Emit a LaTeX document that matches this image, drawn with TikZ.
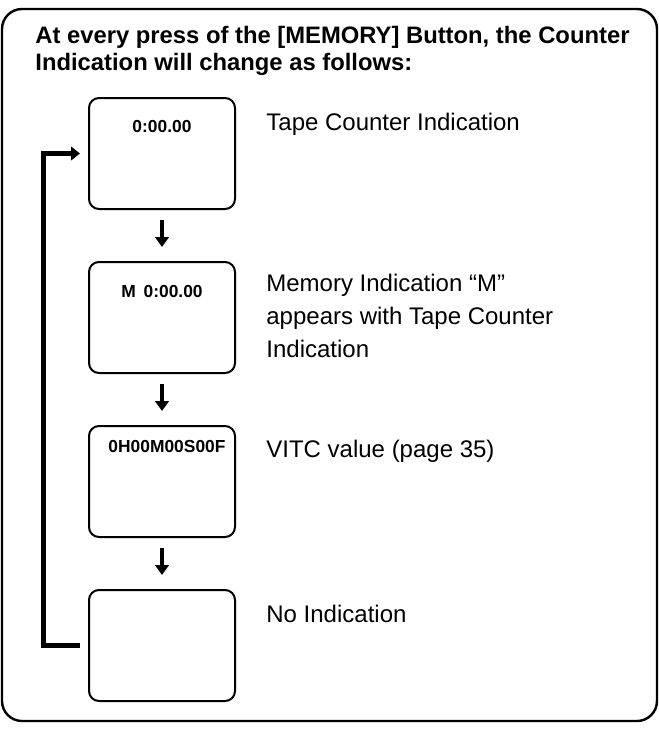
\documentclass[tikz,border=0pt]{standalone}
\usepackage{fontspec}
\setmainfont{Liberation Sans}
\usetikzlibrary{positioning,arrows.meta}

\begin{document}
\begin{tikzpicture}[
    x=0.5pt,y=-0.5pt,
    every node/.style={inner sep=0pt},
    node distance=25.5pt and 15pt,
    display/.style={draw,line width=1pt,rounded corners=5pt,minimum width=73pt,minimum height=55.5pt},
    readout/.style={font=\fontsize{8.7}{10}\selectfont\bfseries},
    note/.style={font=\fontsize{12}{16.5}\selectfont,align=left},
    down/.style={-{Triangle[length=5pt,width=6.8pt]},line width=2.2pt,shorten <=5pt,shorten >=7pt},
    back/.style={-{Triangle[length=4.5pt,width=6.8pt]},line width=2.5pt,shorten <=4pt,shorten >=4pt}
  ]
  \useasboundingbox (0,0) rectangle (659,729);
  \draw[line width=1.2pt,rounded corners=10pt] (2,9) rectangle (657,721);
  \node[anchor=north west,align=left,font=\fontsize{11.9}{13.5}\selectfont\bfseries] (head) at (35,26)
    {At every press of the [MEMORY] Button, the Counter\\Indication will change as follows:};
  % the four counter displays
  \node[display,anchor=north west] (b1) at (88,97) {};
  \node[display,below=of b1] (b2) {};
  \node[display,below=of b2] (b3) {};
  \node[display,below=of b3] (b4) {};
  \node[readout] (r1) at ([yshift=-15pt]b1.north) {0:00.00};
  \node[readout] (r2) at ([yshift=-15.5pt]b2.north) {M\hspace{0.45em}0:00.00};
  \node[readout] (r3) at ([xshift=2.5pt,yshift=-11pt]b3.north) {0H00M00S00F};
  % what each one means
  \node[note,right=of b1.east,yshift=14.75pt] (t1) {Tape Counter Indication};
  \node[note,right=of b2.east,yshift=1pt] (t2) {Memory Indication “M”\\appears with Tape Counter\\Indication};
  \node[note,right=of b3.east,yshift=15.25pt] (t3) {VITC value (page 35)};
  \node[note,right=of b4.east,yshift=15.75pt] (t4) {No Indication};
  \draw[down] (b1) -- (b2);
  \draw[down] (b2) -- (b3);
  \draw[down] (b3) -- (b4);
  \draw[back] (b4.west) -| ([xshift=-22.5pt]b1.west) -- (b1.west);
\end{tikzpicture}
\end{document}
